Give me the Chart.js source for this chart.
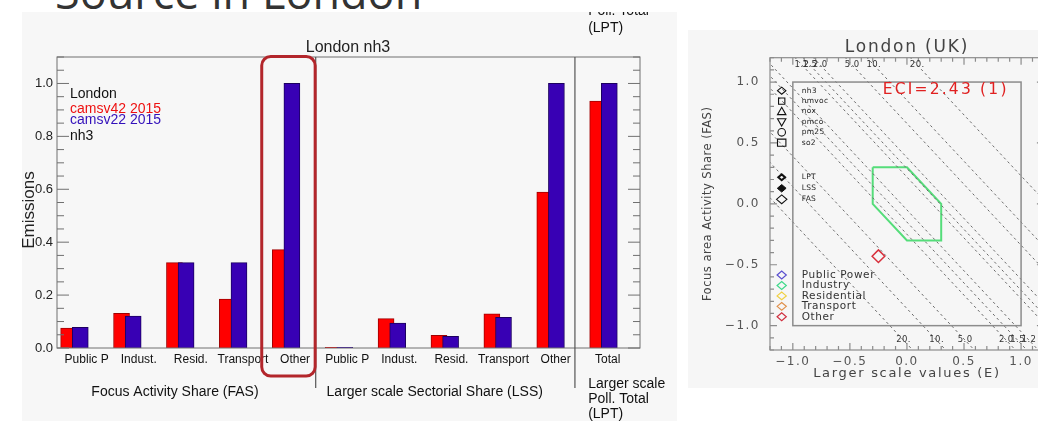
<!DOCTYPE html>
<html>
<head>
<meta charset="utf-8">
<script src="https://cdn.jsdelivr.net/npm/chart.js@4.4.1/dist/chart.umd.min.js"></script>
<style>
  html, body { margin: 0; padding: 0; background: #ffffff; width: 1038px; height: 421px; overflow: hidden; position: relative; }
  #slideTitle { position: absolute; left: 55px; top: -31px; font: 45px/45px "Open Sans", sans-serif; color: #333333; white-space: nowrap; }
  #leftPanel { position: absolute; left: 22px; top: 12px; width: 655px; height: 409px; background: #f7f7f7; }
  #rightPanel { position: absolute; left: 688px; top: 30px; width: 372px; height: 358px; background: #f6f6f6; }
  canvas { display: block; }
</style>
</head>
<body>
<div id="slideTitle">Source in London</div>
<div id="leftPanel"><canvas id="emissions" width="655" height="409"></canvas></div>
<div id="rightPanel"><canvas id="eciDiagram" width="372" height="358"></canvas></div>

<script>
// ---- Sector emissions (normalised), London nh3 ----
const categories = ['Public P', 'Indust.', 'Resid.', 'Transport', 'Other',
                    'Public P', 'Indust.', 'Resid.', 'Transport', 'Other', 'Total'];
const camsv42 = [0.075, 0.131, 0.323, 0.185, 0.372, 0.003, 0.111, 0.048, 0.129, 0.589, 0.933];
const camsv22 = [0.078, 0.121, 0.323, 0.323, 1.000, 0.003, 0.094, 0.044, 0.116, 1.000, 1.000];
const emissionTicks = [0, 0.2, 0.4, 0.6, 0.8, 1.0];
const legendLines = ['London', 'camsv42 2015', 'camsv22 2015', 'nh3'];
const groupNames = ['Focus Activity Share (FAS)', 'Larger scale Sectorial Share (LSS)'];
const totalGroupName = ['Larger scale', 'Poll. Total', '(LPT)'];

// ---- Emission consistency diagram, London (UK) ----
const eciLabels = ['1.2', '1.5', '2.0', '5.0', '10.', '20.'];
const eciUpper = [0.22, 0.29, 0.38, 0.66, 0.85, 1.23];     // x + y = c, labelled along the top
const eciLower = [-0.05, -0.15, -0.25, -0.61, -0.86, -1.15]; // x + y = c, labelled along the bottom
const industryX = [-0.3, 0.0, 0.3, 0.3, 0.0, -0.3, -0.3];
const industryY = [0.3, 0.3, 0.0, -0.3, -0.3, 0.0, 0.3];
const otherX = [-0.25];
const otherY = [-0.43];
const eciText = 'ECI=2.43 (1)';
const pollutants = ['nh3', 'nmvoc', 'nox', 'pmco', 'pm25', 'so2'];
const aggregates = ['LPT', 'LSS', 'FAS'];
const sectors = ['Public Power', 'Industry', 'Residential', 'Transport', 'Other'];
const axisTicks = [-1, -0.5, 0, 0.5, 1];

// ---- styles ----
const RED = '#ff0000';
const BLUE = '#3800b4';
const FRAME = '#707070';
const SANS = '"Liberation Sans", Arial, sans-serif';
const DEJAVU = '"DejaVu Sans", sans-serif';
const sectorColors = ['#5a4fcf', '#3fd98a', '#f0d040', '#e0904a', '#d03040'];
const pollutantMarks = ['diamond', 'square', 'triangle', 'triangleDown', 'circle', 'box'];

function drawText(ctx, str, px, py, font, color, align, spacing, baseline) {
  ctx.save();
  ctx.font = font;
  ctx.fillStyle = color;
  ctx.textAlign = align || 'left';
  ctx.textBaseline = baseline || 'middle';
  ctx.letterSpacing = spacing || '0px';
  ctx.fillText(str, px, py);
  ctx.restore();
}

function drawMark(ctx, shape, cx, cy, r, color, filled, lw) {
  ctx.save();
  ctx.beginPath();
  switch (shape) {
    case 'diamond':
      ctx.moveTo(cx - r, cy); ctx.lineTo(cx, cy - r * 0.85); ctx.lineTo(cx + r, cy); ctx.lineTo(cx, cy + r * 0.85); ctx.closePath();
      break;
    case 'square':
      ctx.rect(cx - r * 0.75, cy - r * 0.75, r * 1.5, r * 1.5);
      break;
    case 'triangle':
      ctx.moveTo(cx, cy - r); ctx.lineTo(cx + r, cy + r * 0.75); ctx.lineTo(cx - r, cy + r * 0.75); ctx.closePath();
      break;
    case 'triangleDown':
      ctx.moveTo(cx, cy + r); ctx.lineTo(cx + r, cy - r * 0.75); ctx.lineTo(cx - r, cy - r * 0.75); ctx.closePath();
      break;
    case 'circle':
      ctx.arc(cx, cy, r * 0.9, 0, Math.PI * 2);
      break;
    case 'box':
      ctx.rect(cx - r, cy - r * 0.85, r * 2, r * 1.7);
      break;
  }
  if (filled) { ctx.fillStyle = color; ctx.fill(); }
  ctx.strokeStyle = color;
  ctx.lineWidth = lw || 1.1;
  ctx.stroke();
  ctx.restore();
}

// frame, inward ticks, separators, annotations for the bar chart
const groupBreaks = [4.56, 9.46];
const leftDecor = {
  id: 'leftDecor',
  afterDatasetsDraw(chart) {
    const { ctx, chartArea: a, scales: { x, y } } = chart;
    ctx.save();
    ctx.strokeStyle = FRAME;
    ctx.lineWidth = 1;
    ctx.strokeRect(a.left, a.top, a.right - a.left, a.bottom - a.top);
    ctx.beginPath();
    for (let k = 0; k <= 22; k++) {
      const py = y.getPixelForValue(k * 0.05);
      const len = k % 4 === 0 ? 12 : 7;
      ctx.moveTo(a.left, py); ctx.lineTo(a.left + len, py);
      ctx.moveTo(a.right, py); ctx.lineTo(a.right - len, py);
    }
    ctx.stroke();
    ctx.strokeStyle = '#555555';
    ctx.lineWidth = 1.2;
    ctx.beginPath();
    groupBreaks.forEach(v => {
      const px = x.getPixelForValue(v);
      ctx.moveTo(px, a.top); ctx.lineTo(px, a.bottom + 40);
    });
    ctx.stroke();
    ctx.restore();
  },
  afterDraw(chart) {
    const { ctx, chartArea: a, scales: { x } } = chart;
    // title and value-axis caption
    drawText(ctx, 'London nh3', 326, 36, '16px ' + SANS, '#222222', 'center');
    ctx.save();
    ctx.translate(7.5, 198);
    ctx.rotate(-Math.PI / 2);
    drawText(ctx, 'Emissions', 0, 0, '17px ' + SANS, '#222222', 'center');
    ctx.restore();
    // legend text in the plot
    const lx = a.left + 13;
    const ly = [85.7, 100.7, 112, 128];
    const lc = ['#111111', '#ee1111', '#3311bb', '#111111'];
    legendLines.forEach((t, i) => drawText(ctx, t, lx, ly[i], '14px ' + SANS, lc[i], 'left', '0px', 'alphabetic'));
    // group captions under the axis
    drawText(ctx, groupNames[0], x.getPixelForValue(1.9), 380, '14px ' + SANS, '#111111', 'center');
    drawText(ctx, groupNames[1], x.getPixelForValue(6.81), 380, '14px ' + SANS, '#111111', 'center');
    totalGroupName.forEach((t, i) => drawText(ctx, t, x.getPixelForValue(9.71), 372 + i * 15, '14px ' + SANS, '#111111', 'left'));
    // caption fragment at the top edge
    drawText(ctx, 'Poll. Total', x.getPixelForValue(9.71), 3, '14px ' + SANS, '#111111', 'left', '0px', 'alphabetic');
    drawText(ctx, '(LPT)', x.getPixelForValue(9.71), 19.5, '14px ' + SANS, '#111111', 'left', '0px', 'alphabetic');
    // highlight round the FAS "Other" bars
    const x0 = x.getPixelForValue(3.54), x1 = x.getPixelForValue(4.55);
    const y0 = a.top - 0.5, y1 = a.bottom + 28;
    ctx.save();
    ctx.strokeStyle = '#b3262b';
    ctx.lineWidth = 3;
    ctx.beginPath();
    ctx.roundRect(x0, y0, x1 - x0, y1 - y0, 9);
    ctx.stroke();
    ctx.restore();
  }
};

new Chart(document.getElementById('emissions'), {
  type: 'bar',
  data: {
    datasets: [
      {
        label: 'camsv42 2015',
        data: camsv42.map((v, i) => ({ x: i - 0.11, y: v })),
        backgroundColor: RED, borderColor: '#a00000', borderWidth: 1,
        barThickness: 16, grouped: false, order: 1
      },
      {
        label: 'camsv22 2015',
        data: camsv22.map((v, i) => ({ x: i + 0.11, y: v })),
        backgroundColor: BLUE, borderColor: '#1c0060', borderWidth: 1,
        barThickness: 16, grouped: false, order: 0
      }
    ]
  },
  options: {
    responsive: false,
    animation: false,
    layout: { padding: { top: 45, right: 37, left: 0, bottom: 0 } },
    plugins: { legend: { display: false }, tooltip: { enabled: false }, title: { display: false } },
    scales: {
      x: {
        type: 'linear', min: -0.33, max: 10.69, offset: false,
        grid: { display: false, drawTicks: false, offset: false },
        border: { display: false },
        afterBuildTicks: s => { s.ticks = categories.map((c, i) => ({ value: i * 0.985 + 0.23 })); },
        ticks: {
          autoSkip: false, maxRotation: 0, minRotation: 0, padding: 4, color: '#111111',
          font: { family: SANS, size: 12 },
          callback: (v, i) => categories[i]
        },
        afterFit: s => { s.height = 73; }
      },
      y: {
        min: 0, max: 1.1,
        grid: { display: false, drawTicks: false },
        border: { display: false },
        afterBuildTicks: s => { s.ticks = emissionTicks.map(v => ({ value: v })); },
        ticks: { padding: 4, color: '#222222', font: { family: SANS, size: 13 }, callback: v => v.toFixed(1) },
        afterFit: s => { s.width = 35; }
      }
    }
  },
  plugins: [leftDecor]
});

// frame, ticks, labels and legend for the ECI diagram
const rightDecor = {
  id: 'rightDecor',
  beforeDraw(chart) { chart.ctx.letterSpacing = '1.5px'; },
  afterDraw(chart) {
    const { ctx, chartArea: a, scales: { x, y } } = chart;
    ctx.letterSpacing = '0px';
    ctx.save();
    ctx.strokeStyle = '#8c8c8c';
    ctx.lineWidth = 1.2;
    ctx.strokeRect(a.left, a.top, a.right - a.left, a.bottom - a.top);
    ctx.beginPath();
    for (let k = -12; k <= 12; k++) {
      const v = k / 10, len = k % 5 === 0 ? 7 : 4;
      const px = x.getPixelForValue(v), py = y.getPixelForValue(v);
      ctx.moveTo(px, a.bottom); ctx.lineTo(px, a.bottom - len);
      ctx.moveTo(px, a.top); ctx.lineTo(px, a.top + len);
      ctx.moveTo(a.left, py); ctx.lineTo(a.left + len, py);
      ctx.moveTo(a.right, py); ctx.lineTo(a.right - len, py);
    }
    ctx.stroke();
    const l = x.getPixelForValue(-1), r = x.getPixelForValue(1);
    const t = y.getPixelForValue(1), b = y.getPixelForValue(-1);
    ctx.lineWidth = 1.5;
    ctx.strokeRect(l, t, r - l, b - t);
    ctx.restore();

    // ECI isoline labels
    const topY = y.getPixelForValue(1.14), botY = y.getPixelForValue(-1.12);
    eciUpper.forEach((c, i) => drawText(ctx, eciLabels[i], x.getPixelForValue(c - 1.14), topY, '8.5px ' + DEJAVU, '#333333', 'center', '0.4px'));
    eciLower.forEach((c, i) => drawText(ctx, eciLabels[i], x.getPixelForValue(c + 1.12), botY, '8.5px ' + DEJAVU, '#333333', 'center', '0.4px'));

    // titles
    const cx = x.getPixelForValue(0), cy = y.getPixelForValue(0);
    drawText(ctx, 'London (UK)', cx, 18, '17px ' + DEJAVU, '#444444', 'center', '1.8px');
    drawText(ctx, 'Larger scale values (E)', cx, 344, '13px ' + DEJAVU, '#444444', 'center', '1.7px');
    ctx.save();
    ctx.translate(20, cy);
    ctx.rotate(-Math.PI / 2);
    drawText(ctx, 'Focus area Activity Share (FAS)', 0, 0, '11.5px ' + DEJAVU, '#444444', 'center', '0.5px');
    ctx.restore();

    drawText(ctx, eciText, a.left + 112.7, a.top + 32.3, '15.5px ' + DEJAVU, '#e02020', 'left', '2.2px');

    // legend
    const sx = a.left + 11.7, tx = a.left + 31.7;
    pollutants.forEach((p, i) => {
      const py = a.top + 33 + i * 10.4;
      drawMark(ctx, pollutantMarks[i], sx, py, 4.2, '#111111', false, 1.1);
      drawText(ctx, p, tx, py, '7.5px ' + DEJAVU, '#222222', 'left', '0.3px');
    });
    aggregates.forEach((p, i) => {
      const py = a.top + 119.6 + i * 11;
      if (i === 0) drawMark(ctx, 'diamond', sx, py, 3.4, '#111111', false, 2);
      else if (i === 1) drawMark(ctx, 'diamond', sx, py, 4.4, '#111111', true, 1);
      else drawMark(ctx, 'diamond', sx, py, 5.2, '#111111', false, 1.1);
      drawText(ctx, p, tx, py, '7.5px ' + DEJAVU, '#222222', 'left', '0.3px');
    });
    sectors.forEach((s, i) => {
      const py = a.top + 217.3 + i * 10.45;
      drawMark(ctx, 'diamond', sx, py, 4.6, sectorColors[i], false, 1.2);
      drawText(ctx, s, tx, py, '10.5px ' + DEJAVU, '#333333', 'left', '0.6px');
    });
  }
};

const isolines = eciUpper.concat(eciLower).map(c => ({
  label: 'ECI ' + c,
  data: [{ x: c - 1.6, y: 1.6 }, { x: c + 1.6, y: -1.6 }],
  showLine: true, borderColor: '#6a6a6a', borderWidth: 1, borderDash: [2.5, 3],
  pointRadius: 0, pointHoverRadius: 0
}));

new Chart(document.getElementById('eciDiagram'), {
  type: 'scatter',
  data: {
    datasets: isolines.concat([
      {
        label: 'Industry',
        data: industryX.map((v, i) => ({ x: v, y: industryY[i] })),
        showLine: true, borderColor: '#55dd7a', borderWidth: 2, pointRadius: 0, pointHoverRadius: 0
      },
      {
        label: 'Other',
        data: otherX.map((v, i) => ({ x: v, y: otherY[i] })),
        pointStyle: 'rectRot', pointRadius: 6.3, borderColor: '#d8303c', borderWidth: 1.5,
        backgroundColor: 'rgba(0,0,0,0)'
      }
    ])
  },
  options: {
    responsive: false,
    animation: false,
    layout: { padding: { top: 27.7, right: 16.1, left: 0, bottom: 0 } },
    plugins: { legend: { display: false }, tooltip: { enabled: false }, title: { display: false } },
    scales: {
      x: {
        type: 'linear', min: -1.2, max: 1.2,
        grid: { display: false, drawTicks: false }, border: { display: false },
        afterBuildTicks: s => { s.ticks = axisTicks.map(v => ({ value: v })); },
        ticks: { padding: 5, color: '#555555', font: { family: DEJAVU, size: 12 }, maxRotation: 0,
                 callback: v => (v < 0 ? '\u2212' : '') + Math.abs(v).toFixed(1) },
        afterFit: s => { s.height = 38; }
      },
      y: {
        type: 'linear', min: -1.2, max: 1.2,
        grid: { display: false, drawTicks: false }, border: { display: false },
        afterBuildTicks: s => { s.ticks = axisTicks.map(v => ({ value: v })); },
        ticks: { padding: 10, color: '#555555', font: { family: DEJAVU, size: 12 },
                 callback: v => (v < 0 ? '\u2212' : '') + Math.abs(v).toFixed(1) },
        afterFit: s => { s.width = 82; }
      }
    }
  },
  plugins: [rightDecor]
});
</script>
</body>
</html>
